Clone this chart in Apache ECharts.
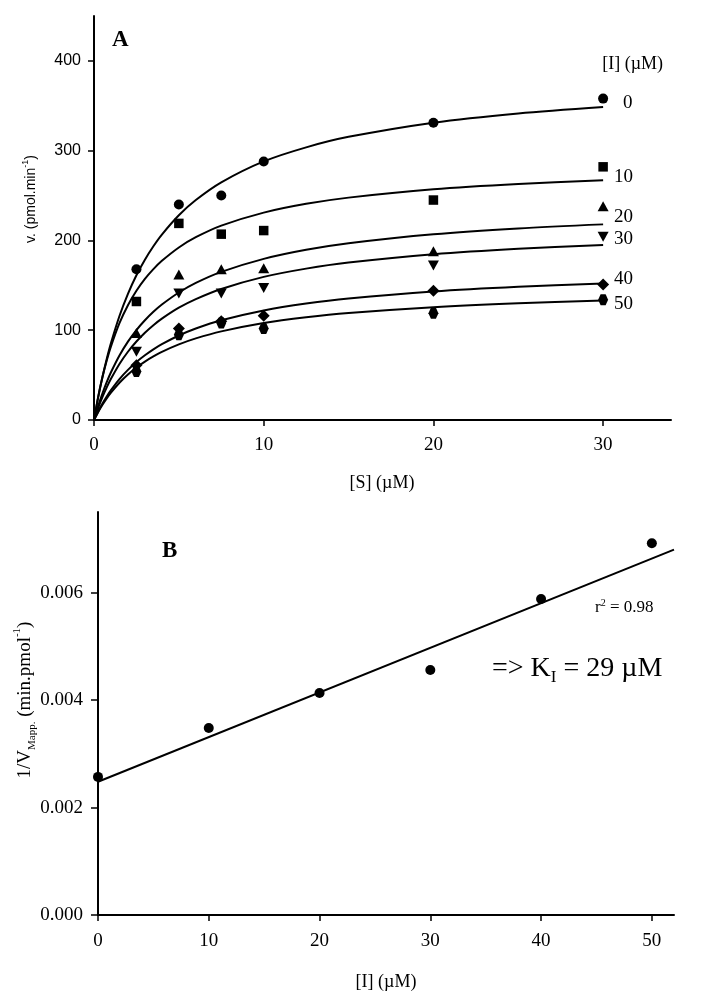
<!DOCTYPE html>
<html><head><meta charset="utf-8">
<script src="https://cdn.jsdelivr.net/npm/echarts@6/dist/echarts.min.js"></script>
<style>html,body{margin:0;padding:0;background:#fff}#c{width:715px;height:1004px}</style>
</head><body><div id="c"></div>
<script>
// ---------- Panel A data ----------
const inhibitorLevels = ['0', '10', '20', '30', '40', '50'];
const substrateConc = [2.5, 5, 7.5, 10, 20, 30];
const vI0  = [168, 240, 250, 288, 331, 358];
const vI10 = [132, 219, 207, 211, 245, 282];
const vI20 = [97, 162, 168, 169, 188, 238];
const vI30 = [76, 141, 141, 147, 172, 204];
const vI40 = [61, 102, 110, 116, 144, 151];
const vI50 = [54, 95, 108, 102, 119, 134];

// fitted curves
const curveS = [0, 0.25, 0.5, 0.75, 1, 1.5, 2, 2.5, 3, 3.5, 4, 5, 6, 7.5, 10, 12.5, 15, 20, 25, 30];
const fitI0  = [0, 25.7, 48.1, 68.0, 85.7, 115.8, 140.5, 161.2, 178.6, 193.6, 206.6, 228.1, 245.0, 264.7, 288.0, 303.7, 315.4, 331.2, 341.5, 348.7];
const fitI10 = [0, 26.0, 47.8, 66.2, 82.0, 107.8, 127.8, 143.9, 157.1, 168.0, 177.3, 192.2, 203.6, 216.5, 231.0, 240.8, 247.7, 257.0, 262.9, 267.0];
const fitI20 = [0, 15.9, 29.8, 42.2, 53.2, 71.9, 87.3, 100.2, 111.1, 120.5, 128.6, 142.0, 152.7, 165.0, 179.5, 189.6, 196.9, 206.9, 213.4, 217.9];
const fitI30 = [0, 13.6, 25.7, 36.4, 45.9, 62.4, 76.0, 87.4, 97.2, 105.6, 112.9, 125.1, 134.7, 146.0, 159.4, 168.6, 175.4, 184.7, 190.8, 195.0];
const fitI40 = [0, 9.7, 18.4, 26.2, 33.3, 45.6, 55.8, 64.6, 72.1, 78.7, 84.5, 94.1, 101.9, 111.1, 122.0, 129.7, 135.4, 143.2, 148.4, 152.1];
const fitI50 = [0, 9.0, 17.0, 24.1, 30.5, 41.5, 50.7, 58.5, 65.1, 70.8, 75.9, 84.2, 90.9, 98.7, 108.0, 114.4, 119.2, 125.7, 130.0, 133.0];

const aXTicks = [0, 10, 20, 30];
const aYTicks = [0, 100, 200, 300, 400];

// ---------- Panel B data ----------
const inhibitorConc = [0, 10, 20, 30, 40, 50];
const invVmaxApp = [0.00257, 0.00348, 0.00413, 0.00456, 0.00588, 0.00692];
const fitLineX = [0, 52];
const fitLineY = [0.00248, 0.00680];
const bXTicks = [0, 10, 20, 30, 40, 50];
const bYTicks = [0, 0.002, 0.004, 0.006];

// ---------- chart ----------
const SERIF = '"Liberation Serif", "DejaVu Serif", serif';
const SANS = '"Liberation Sans", Arial, sans-serif';
const pair = (xs, ys) => xs.map((x, i) => [x, ys[i]]);
const chart = echarts.init(document.getElementById('c'));

const axisCommon = {
  type: 'value',
  splitLine: { show: false },
  axisLine: { show: true, lineStyle: { color: '#000', width: 2 } }
};

const fits = [fitI0, fitI10, fitI20, fitI30, fitI40, fitI50];
const points = [vI0, vI10, vI20, vI30, vI40, vI50];
const hexagon = 'path://M-1,0 L-0.5,-0.87 L0.5,-0.87 L1,0 L0.5,0.87 L-0.5,0.87 Z';
const symbols = [
  { symbol: 'circle', symbolSize: 10, symbolRotate: 0 },
  { symbol: 'rect', symbolSize: 9.5, symbolRotate: 0 },
  { symbol: 'triangle', symbolSize: [11, 10], symbolRotate: 0 },
  { symbol: 'triangle', symbolSize: [11, 10], symbolRotate: 180 },
  { symbol: 'diamond', symbolSize: [12, 12], symbolRotate: 0 },
  { symbol: hexagon, symbolSize: [10, 11], symbolRotate: 0 }
];

const series = [];
fits.forEach((f, i) => {
  series.push({
    name: 'fit ' + inhibitorLevels[i], type: 'line', xAxisIndex: 0, yAxisIndex: 0,
    data: pair(curveS, f), showSymbol: false, smooth: 0.3,
    lineStyle: { color: '#000', width: 2 }, silent: true, z: 2
  });
});
points.forEach((p, i) => {
  series.push(Object.assign({
    name: '[I] ' + inhibitorLevels[i], type: 'scatter', xAxisIndex: 0, yAxisIndex: 0,
    data: pair(substrateConc, p), itemStyle: { color: '#000', opacity: 1 }, clip: false, z: 3
  }, symbols[i]));
});
series.push({
  name: 'fit B', type: 'line', xAxisIndex: 1, yAxisIndex: 1,
  data: pair(fitLineX, fitLineY), showSymbol: false,
  lineStyle: { color: '#000', width: 2 }, silent: true, z: 2
});
series.push({
  name: '1/Vmax app', type: 'scatter', xAxisIndex: 1, yAxisIndex: 1,
  data: pair(inhibitorConc, invVmaxApp), symbol: 'circle', symbolSize: 10,
  itemStyle: { color: '#000', opacity: 1 }, clip: false, z: 3
});

function txt(x, y, rich, parts, align) {
  return {
    type: 'text', x: x, y: y, silent: true,
    style: { text: parts, rich: rich, align: align || 'left', verticalAlign: 'middle', fill: '#000' }
  };
}
const serifRich = size => ({ n: { fontSize: size, fontFamily: SERIF, fill: '#000' } });
const boldRich = { b: { fontSize: 23, fontWeight: 'bold', fontFamily: SERIF, fill: '#000' } };

const legendY = [103, 177, 217, 239, 279, 304];
const legendX = [623, 614, 614, 614, 614, 614];
const graphics = [
  txt(112, 40, boldRich, '{b|A}'),
  txt(162, 551, boldRich, '{b|B}'),
  txt(663, 64, serifRich(18), '{n|[I] (µM)}', 'right'),
  txt(382, 483, serifRich(18), '{n|[S] (µM)}', 'center'),
  txt(386, 982, serifRich(18), '{n|[I] (µM)}', 'center'),
  {
    type: 'text', x: 31, y: 199, rotation: Math.PI / 2, silent: true,
    style: {
      text: '{m|v. (pmol.min}{p|-1}{m|)}', align: 'center', verticalAlign: 'middle',
      rich: {
        m: { fontSize: 14, fontFamily: SANS, fill: '#000', lineHeight: 20 },
        p: { fontSize: 9, fontFamily: SANS, fill: '#000', lineHeight: 9, verticalAlign: 'top' }
      }
    }
  },
  {
    type: 'text', x: 25, y: 700, rotation: Math.PI / 2, silent: true,
    style: {
      text: '{m|1/V}{s|Mapp.}{m| (min.pmol}{p|-1}{m|)}', align: 'center', verticalAlign: 'middle',
      rich: {
        m: { fontSize: 19, fontFamily: SERIF, fill: '#000', lineHeight: 26 },
        s: { fontSize: 11, fontFamily: SERIF, fill: '#000', lineHeight: 11, verticalAlign: 'bottom' },
        p: { fontSize: 11, fontFamily: SERIF, fill: '#000', lineHeight: 11, verticalAlign: 'top' }
      }
    }
  },
  txt(595, 608, {
    m: { fontSize: 17, fontFamily: SERIF, fill: '#000', lineHeight: 20 },
    p: { fontSize: 10, fontFamily: SERIF, fill: '#000', lineHeight: 10, verticalAlign: 'top' }
  }, '{m|r}{p|2}{m| = 0.98}'),
  txt(492, 669, {
    m: { fontSize: 28, fontFamily: SERIF, fill: '#000', lineHeight: 34 },
    s: { fontSize: 17, fontFamily: SERIF, fill: '#000', lineHeight: 17, verticalAlign: 'bottom' }
  }, '{m|=> K}{s|I}{m| = 29 µM}')
];
inhibitorLevels.forEach((lv, i) => {
  graphics.push(txt(legendX[i], legendY[i], serifRich(19), '{n|' + lv + '}'));
});

const tick = (len, vals) => ({ show: true, length: len, lineStyle: { color: '#000', width: 1.5 }, customValues: vals });

chart.setOption({
  animation: false,
  backgroundColor: '#fff',
  grid: [
    { left: 94, right: 44, top: 16, bottom: 584, containLabel: false },
    { left: 98, right: 41, top: 512, bottom: 89, containLabel: false }
  ],
  xAxis: [
    Object.assign({}, axisCommon, {
      gridIndex: 0, min: 0, max: 34, interval: 10,
      axisTick: tick(6, aXTicks),
      axisLabel: { customValues: aXTicks, fontFamily: SERIF, fontSize: 19, color: '#000', margin: 16 }
    }),
    Object.assign({}, axisCommon, {
      gridIndex: 1, min: 0, max: 52, interval: 10,
      axisTick: tick(6, bXTicks),
      axisLabel: { customValues: bXTicks, fontFamily: SERIF, fontSize: 19, color: '#000', margin: 17 }
    })
  ],
  yAxis: [
    Object.assign({}, axisCommon, {
      gridIndex: 0, min: 0, max: 450, interval: 50,
      axisTick: tick(6, aYTicks),
      axisLabel: { customValues: aYTicks, fontFamily: SANS, fontSize: 16, color: '#000', margin: 13 }
    }),
    Object.assign({}, axisCommon, {
      gridIndex: 1, min: 0, max: 0.0075, interval: 0.0005,
      axisTick: tick(7, bYTicks),
      axisLabel: { customValues: bYTicks, fontFamily: SERIF, fontSize: 19, color: '#000', margin: 15,
        formatter: v => Number(v).toFixed(3) }
    })
  ],
  series: series,
  graphic: graphics
});
</script>
</body></html>
